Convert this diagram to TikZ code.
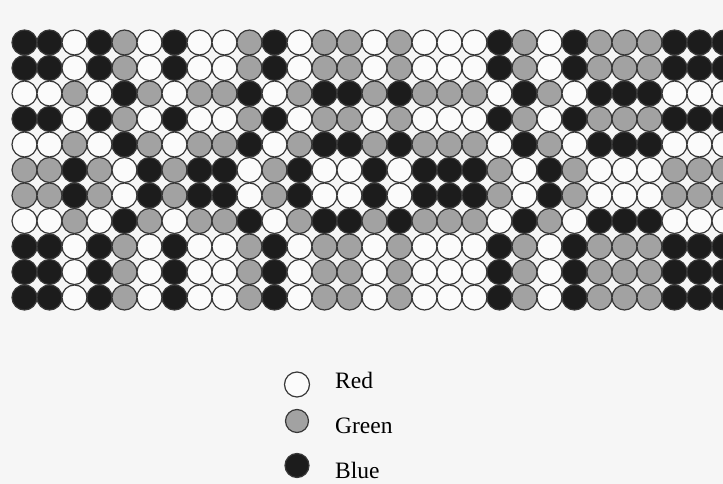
\documentclass[tikz,border=0pt]{standalone}
\usepackage{fontspec}
\setmainfont{Liberation Serif}
\usetikzlibrary{positioning}
\definecolor{bluebead}{HTML}{1C1C1C}
\definecolor{greenbead}{HTML}{A2A2A2}
\definecolor{redbead}{HTML}{FBFBFB}
\definecolor{rim}{HTML}{383838}
\definecolor{paper}{HTML}{F6F6F6}

\begin{document}
\begin{tikzpicture}[x=1pt,y=-1pt,
 bead/.style={circle,draw=rim,line width=1.2pt,minimum size=25pt,inner sep=0pt},
 b0/.style={bead,fill=bluebead},
 b1/.style={bead,fill=redbead},
 b2/.style={bead,fill=greenbead},
 key/.style={font=\fontsize{23.5}{26}\selectfont,anchor=base west,inner sep=0pt}]
\fill[paper] (0,0) rectangle (723,484);
\useasboundingbox (0,0) rectangle (723,484);
\clip (0,0) rectangle (723,484);
% beads: colour = (row shift + column value) mod 3
\foreach \rv [count=\r from 0] in {0,0,1,0,1,2,2,1,0,0,0}
 \foreach \cv [count=\c from 0] in {0,0,1,0,2,1,0,1,1,2,0,1,2,2,1,2,1,1,1,0,2,1,0,2,2,2,0,0,0}{
  \pgfmathtruncatemacro\k{mod(\rv+\cv,3)}
  \node[b\k] (c\r-\c) at (24.5+25*\c,42.5+25.5*\r) {};
 }
% key
\node[b1] (kr) at (297,384.5) {};
\node[b2,minimum size=23pt] (kg) at (297,421) {};
\node[b0,minimum size=24pt] (kb) at (297,465.5) {};
\node[key] (tr) at (335,388) {Red};
\node[key] (tg) at (335,433) {Green};
\node[key] (tb) at (335,478) {Blue};
\end{tikzpicture}
\end{document}
